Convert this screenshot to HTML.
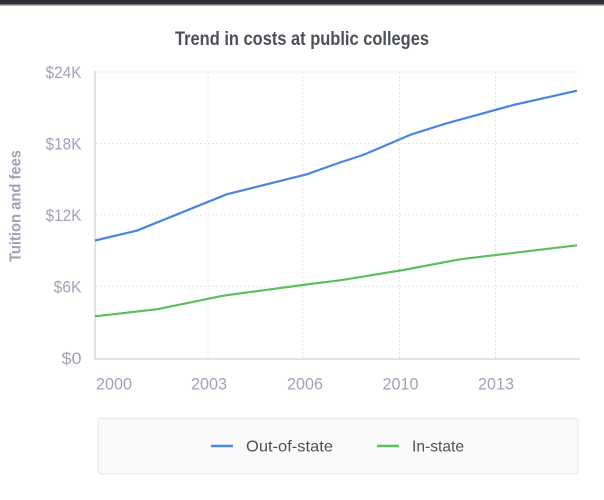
<!DOCTYPE html>
<html><head><meta charset="utf-8"><style>
html,body{margin:0;padding:0;background:#fff;}
svg{display:block;}
</style></head><body>
<svg width="604" height="500" viewBox="0 0 604 500" xmlns="http://www.w3.org/2000/svg" font-family="Liberation Sans, sans-serif">
<rect x="0" y="0" width="604" height="5" fill="#2e3236"/>
<rect x="0" y="4.5" width="604" height="1.5" fill="#b9bbbe"/>
<text x="302" y="45" text-anchor="middle" font-size="19" font-weight="bold" fill="#4c5057" textLength="254" lengthAdjust="spacingAndGlyphs">Trend in costs at public colleges</text>
<g stroke="#e3e4e8" stroke-width="1" stroke-dasharray="2,2" fill="none">
<line x1="96" y1="72" x2="580" y2="72"/>
<line x1="96" y1="143.5" x2="580" y2="143.5"/>
<line x1="96" y1="215" x2="580" y2="215"/>
<line x1="96" y1="286.5" x2="580" y2="286.5"/>
<line x1="208" y1="72" x2="208" y2="358"/>
<line x1="303" y1="72" x2="303" y2="358"/>
<line x1="399.5" y1="72" x2="399.5" y2="358"/>
<line x1="495.5" y1="72" x2="495.5" y2="358"/>
</g>
<line x1="95" y1="71" x2="95" y2="359" stroke="#e2e3ea" stroke-width="2"/>
<line x1="94" y1="359" x2="580" y2="359" stroke="#e2e3ea" stroke-width="2"/>
<g font-size="17" fill="#a0a3b4" text-anchor="end">
<text x="81.5" y="78" textLength="36" lengthAdjust="spacingAndGlyphs">$24K</text>
<text x="81.5" y="149.5" textLength="36" lengthAdjust="spacingAndGlyphs">$18K</text>
<text x="81.5" y="221" textLength="36" lengthAdjust="spacingAndGlyphs">$12K</text>
<text x="81.5" y="292.5" textLength="28" lengthAdjust="spacingAndGlyphs">$6K</text>
<text x="81.5" y="364" textLength="20" lengthAdjust="spacingAndGlyphs">$0</text>
</g>
<g font-size="17" fill="#a0a3b4" text-anchor="middle">
<text x="114" y="389.5" textLength="36" lengthAdjust="spacingAndGlyphs">2000</text>
<text x="209" y="389.5" textLength="36" lengthAdjust="spacingAndGlyphs">2003</text>
<text x="305" y="389.5" textLength="36" lengthAdjust="spacingAndGlyphs">2006</text>
<text x="400.5" y="389.5" textLength="36" lengthAdjust="spacingAndGlyphs">2010</text>
<text x="496" y="389.5" textLength="36" lengthAdjust="spacingAndGlyphs">2013</text>
</g>
<text transform="translate(20.5,206) rotate(-90)" text-anchor="middle" font-size="16" font-weight="bold" fill="#9fa2b3" textLength="112" lengthAdjust="spacingAndGlyphs">Tuition and fees</text>
<polyline fill="none" stroke="#4a87dc" stroke-width="2.2" stroke-linejoin="round" points="95,240.5 136.7,230.7 226.7,194.3 306.7,174.3 340,162.5 363,155 411.7,134.3 446.7,123.3 513.3,105 577,90.7"/>
<polyline fill="none" stroke="#5abf5f" stroke-width="2.2" stroke-linejoin="round" points="95,316.3 156.7,309.3 223.3,295.7 310,284 340,280.3 403.3,270 460,259.3 577,245.3"/>
<rect x="98" y="418" width="480" height="56" rx="3" ry="3" fill="#fafafb" stroke="#e6e7ea" stroke-width="1"/>
<line x1="211" y1="446" x2="233" y2="446" stroke="#4a87dc" stroke-width="2.5"/>
<text x="246" y="451.5" font-size="16" fill="#4c5057" textLength="87" lengthAdjust="spacingAndGlyphs">Out-of-state</text>
<line x1="377" y1="446" x2="399" y2="446" stroke="#5abf5f" stroke-width="2.5"/>
<text x="412" y="451.5" font-size="16" fill="#4c5057" textLength="52" lengthAdjust="spacingAndGlyphs">In-state</text>
</svg>
</body></html>
